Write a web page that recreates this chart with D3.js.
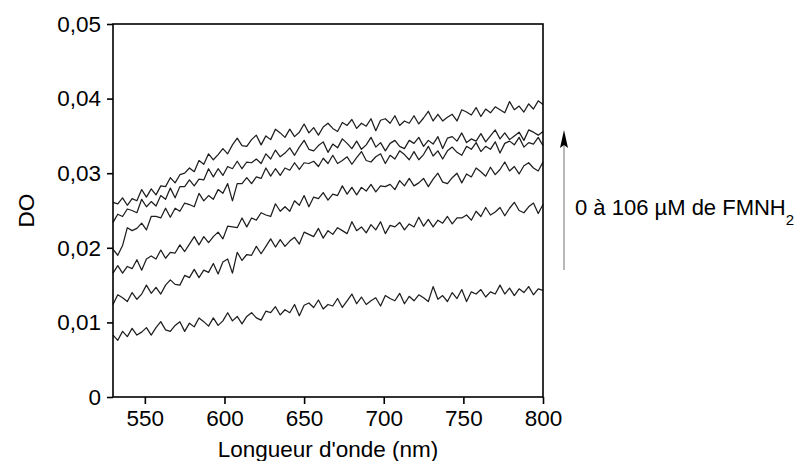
<!DOCTYPE html>
<html><head><meta charset="utf-8">
<script src="https://cdn.jsdelivr.net/npm/d3@7"></script>
<style>
html,body{margin:0;padding:0;background:#fff;}
svg{display:block;font-family:"Liberation Sans",Arial,sans-serif;}
</style></head>
<body>
<svg id="chart" width="801" height="461"></svg>
<script>
// Wavelengths (nm), sampled every 3 nm
const wavelengths = [530,533,536,539,542,545,548,551,554,557,560,563,566,569,572,575,578,581,584,587,590,593,596,599,602,605,608,611,614,617,620,623,626,629,632,635,638,641,644,647,650,653,656,659,662,665,668,671,674,677,680,683,686,689,692,695,698,701,704,707,710,713,716,719,722,725,728,731,734,737,740,743,746,749,752,755,758,761,764,767,770,773,776,779,782,785,788,791,794,797,800];
// Optical density, in units of 1e-4 DO (0 -> 106 µM FMNH2)
const unit = 1e-4;
const series1 = [83,76,88,81,92,83,87,93,83,93,101,90,88,96,101,88,99,94,106,101,95,106,96,102,113,102,108,98,108,113,106,103,115,113,121,110,117,113,124,109,123,126,120,130,118,124,122,132,120,129,138,125,134,124,129,133,122,136,132,129,139,125,135,129,137,133,128,148,131,136,128,140,132,144,128,141,138,144,134,141,138,150,138,146,136,145,140,148,137,145,143];
const series2 = [124,137,133,128,140,131,138,150,139,147,138,150,157,151,150,163,160,171,160,170,167,179,165,181,185,166,194,183,191,190,202,192,202,212,201,211,202,209,214,205,221,218,215,226,213,223,218,227,223,219,235,223,228,220,231,224,235,219,230,228,234,224,232,228,241,229,238,228,237,233,242,232,240,240,244,237,249,242,254,244,248,254,243,253,261,250,247,255,260,246,258];
const series3 = [166,176,166,175,172,184,170,185,189,185,197,186,194,193,204,195,205,215,204,215,207,215,221,212,229,228,227,240,228,240,237,247,244,242,259,249,255,249,263,257,270,255,268,266,274,264,272,270,283,272,281,271,281,276,285,275,283,282,285,278,290,283,293,283,287,293,282,292,300,288,286,294,300,287,299,295,307,302,296,308,298,305,315,303,309,299,310,314,307,303,315];
const series4 = [198,190,203,227,223,226,233,224,242,242,240,253,241,253,249,260,258,255,273,263,270,265,278,273,286,263,286,286,294,286,295,293,307,296,306,297,307,304,314,305,314,313,316,309,320,313,324,313,317,322,312,321,329,317,315,322,326,313,324,319,330,325,318,329,318,325,336,323,330,319,330,335,328,324,336,332,341,329,336,332,342,327,340,343,338,348,335,341,339,348,337];
const series5 = [234,245,242,252,250,247,265,255,262,256,270,265,280,267,282,282,291,283,292,291,306,295,306,297,309,306,316,306,315,314,319,313,326,319,331,322,327,334,324,335,344,332,330,337,342,328,339,334,346,340,333,343,332,338,348,335,341,330,340,344,336,333,344,340,348,336,344,339,349,333,347,349,343,354,341,346,343,353,342,350,358,346,354,345,350,355,344,358,355,351,356];
const series6 = [261,259,267,257,266,263,278,268,279,271,283,282,294,287,298,300,307,302,317,312,326,318,325,333,326,338,347,337,336,345,351,338,350,345,359,354,348,359,349,355,366,354,361,351,362,367,360,356,368,364,372,360,367,363,373,357,371,373,367,377,364,370,367,377,366,374,383,370,379,370,375,379,370,385,382,378,388,376,386,381,389,385,381,396,385,390,382,393,386,397,392];
const allSeries = [series1, series2, series3, series4, series5, series6];

const xTicks = [550,600,650,700,750,800];
const yTicks = [0,0.01,0.02,0.03,0.04,0.05];
const xDomain = [530,800];
const yDomain = [0,0.05];
const xTitle = "Longueur d'onde (nm)";
const yTitle = "DO";
const annotation = "0 à 106 µM de FMNH";
const annotationSub = "2";

const margin = {left:113, right:258, top:24, bottom:64};
const W = 801, H = 461;
const FS = "22.5px";
const svg = d3.select("#chart");
const x = d3.scaleLinear().domain(xDomain).range([margin.left, W - margin.right]);
const y = d3.scaleLinear().domain(yDomain).range([H - margin.bottom, margin.top]);

const fmt = d => d === 0 ? "0" : d.toFixed(2).replace(".", ",");

// lines
const line = d3.line().x((d,i)=>x(wavelengths[i])).y(d=>y(d*unit));
svg.append("g").selectAll("path").data(allSeries).join("path")
  .attr("d", line)
  .attr("fill","none")
  .attr("stroke","#1e1e1e")
  .attr("stroke-width",1.25)
  .attr("stroke-linejoin","round");

// frame
svg.append("rect")
  .attr("x", x(xDomain[0])).attr("y", y(yDomain[1]))
  .attr("width", x(xDomain[1]) - x(xDomain[0]))
  .attr("height", y(yDomain[0]) - y(yDomain[1]))
  .attr("fill","none").attr("stroke","#000").attr("stroke-width",1.6);

// axes
const yAxis = svg.append("g").attr("transform",`translate(${x(xDomain[0])},0)`)
  .call(d3.axisLeft(y).tickValues(yTicks).tickFormat(fmt).tickSize(6).tickPadding(6));
const xAxis = svg.append("g").attr("transform",`translate(0,${y(yDomain[0])})`)
  .call(d3.axisBottom(x).tickValues(xTicks).tickFormat(d3.format("d")).tickSize(7).tickPadding(6));
[xAxis,yAxis].forEach(g=>{
  g.select(".domain").remove();
  g.selectAll(".tick line").attr("stroke","#000").attr("stroke-width",1.6);
  g.selectAll(".tick text").attr("fill","#000").style("font-size",FS)
    .style("font-family","'Liberation Sans', Arial, sans-serif");
});

// titles
svg.append("text").attr("x", (x(xDomain[0])+x(xDomain[1]))/2).attr("y", 457)
  .attr("text-anchor","middle").style("font-size",FS).text(xTitle);
svg.append("text").attr("transform",`translate(34,${(y(0)+y(0.05))/2}) rotate(-90)`)
  .attr("text-anchor","middle").style("font-size",FS).text(yTitle);

// annotation arrow
const ax = 564;
svg.append("line").attr("x1",ax).attr("x2",ax).attr("y1",270).attr("y2",145)
  .attr("stroke","#8a8a8a").attr("stroke-width",1.2);
svg.append("path").attr("d",`M${ax},130 L${ax-4},148 L${ax},145 L${ax+4},148 Z`).attr("fill","#000");

const ann = svg.append("text").attr("x",575).attr("y",215).style("font-size","22px").text(annotation);
ann.append("tspan").attr("dy",10).style("font-size","15px").text(annotationSub);
</script>
</body></html>
